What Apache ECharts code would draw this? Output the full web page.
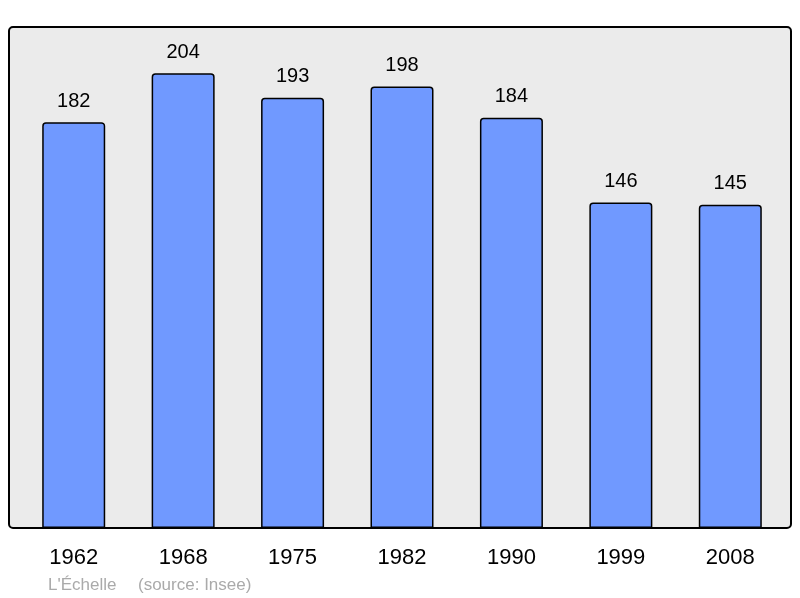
<!DOCTYPE html>
<html>
<head>
<meta charset="utf-8">
<script src="https://cdn.jsdelivr.net/npm/echarts@6/dist/echarts.min.js"></script>
<style>
html,body{margin:0;padding:0;background:#fff;}
#main{width:800px;height:598px;}
</style>
</head>
<body>
<div id="main"></div>
<script>
var years = ['1962', '1968', '1975', '1982', '1990', '1999', '2008'];
var population = [182, 204, 193, 198, 184, 146, 145];

var myChart = echarts.init(document.getElementById('main'));
var font = '"Liberation Sans", Arial, sans-serif';

option = {
    animation: false,
    backgroundColor: '#ffffff',
    graphic: [
        {
            type: 'rect',
            z: -10,
            shape: {x: 9, y: 27, width: 782, height: 501, r: 4},
            style: {fill: '#ebebeb', stroke: '#000', lineWidth: 2}
        },
        {
            type: 'text',
            left: 48, top: 577,
            style: {text: "L'Échelle", fill: '#aaaaaa', font: '17px ' + font}
        },
        {
            type: 'text',
            left: 138, top: 577,
            style: {text: '(source: Insee)', fill: '#aaaaaa', font: '17px ' + font}
        }
    ],
    grid: {left: 19, right: 15, top: 27, bottom: 70},
    xAxis: {
        type: 'category',
        data: years,
        axisLine: {show: false},
        axisTick: {show: false},
        axisLabel: {fontSize: 22, color: '#000', fontFamily: font, margin: 19}
    },
    yAxis: {
        type: 'value',
        min: 0,
        max: 224.7,
        show: false,
        splitLine: {show: false}
    },
    series: [
        {
            type: 'bar',
            data: population,
            barWidth: 63,
            itemStyle: {
                color: '#7099ff',
                borderColor: '#000',
                borderWidth: 1.5,
                borderRadius: [3, 3, 0, 0]
            },
            label: {
                show: true,
                position: 'top',
                distance: 11,
                fontSize: 20,
                color: '#000',
                fontFamily: font
            }
        }
    ]
};

myChart.setOption(option);
</script>
</body>
</html>
